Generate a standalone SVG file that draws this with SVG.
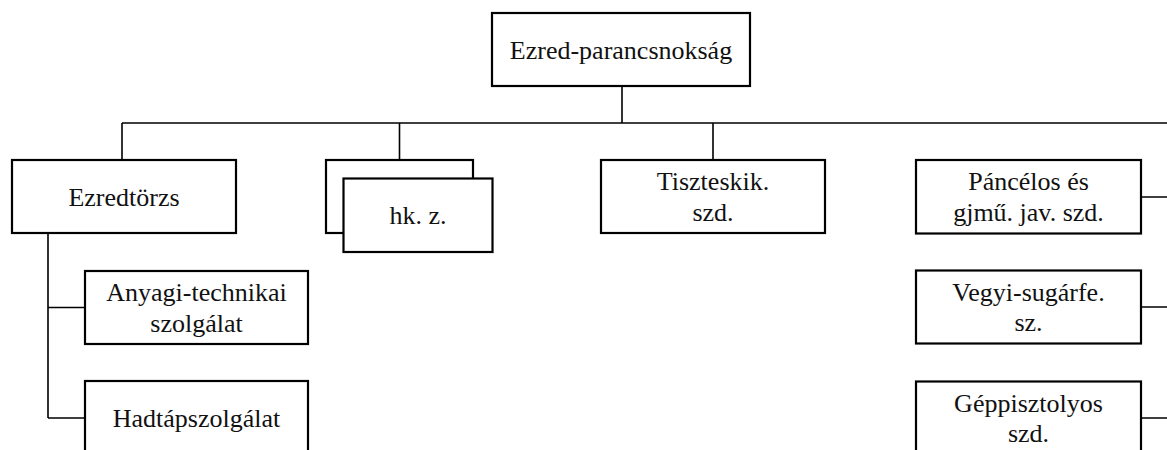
<svg xmlns="http://www.w3.org/2000/svg" width="1167" height="450" viewBox="0 0 1167 450">
<style>
.box{fill:#fff;stroke:#000;stroke-width:2.2}
.conn{fill:none;stroke:#000;stroke-width:1.6}
text{font-family:"Liberation Serif","Times New Roman",serif;font-size:26px;fill:#111;text-anchor:middle}
</style>
<rect width="1167" height="450" fill="#fff"/>
<g id="connectors">
<path class="conn" d="M622 86V123M122 123H1167M122 123V160M399.5 123V160M713 123V160"/>
<path class="conn" d="M48 234V418M48 307.5H85M48 418H85"/>
<path class="conn" d="M1141 197H1167M1141 307H1167M1141 418H1167"/>
</g>
<g id="node-parancsnoksag">
<rect class="box" x="492" y="13" width="258" height="73"/>
<text x="621" y="59">Ezred-parancsnokság</text>
</g>
<g id="node-ezredtorzs">
<rect class="box" x="12" y="160" width="224" height="73"/>
<text x="124" y="206">Ezredtörzs</text>
</g>
<g id="node-hkz">
<rect class="box" x="326" y="160" width="147" height="73"/>
<rect class="box" x="343.5" y="178.5" width="149" height="73.5"/>
<text x="418" y="224">hk. z.</text>
</g>
<g id="node-tiszteskik">
<rect class="box" x="601" y="160" width="224" height="73"/>
<text x="713" y="190">Tiszteskik.</text>
<text x="713" y="220.5">szd.</text>
</g>
<g id="node-pancelos">
<rect class="box" x="916" y="160" width="225" height="73.5"/>
<text x="1028.5" y="190">Páncélos és</text>
<text x="1028.5" y="220.5">gjmű. jav. szd.</text>
</g>
<g id="node-anyagi">
<rect class="box" x="85" y="271" width="223" height="73"/>
<text x="196.5" y="301">Anyagi-technikai</text>
<text x="196.5" y="331.5">szolgálat</text>
</g>
<g id="node-hadtap">
<rect class="box" x="85" y="381" width="223" height="73"/>
<text x="196.5" y="427">Hadtápszolgálat</text>
</g>
<g id="node-vegyi">
<rect class="box" x="916" y="270.5" width="225" height="73"/>
<text x="1028.5" y="300.5">Vegyi-sugárfe.</text>
<text x="1028.5" y="331">sz.</text>
</g>
<g id="node-geppisztolyos">
<rect class="box" x="916" y="381.5" width="225" height="73"/>
<text x="1028.5" y="411.5">Géppisztolyos</text>
<text x="1028.5" y="442">szd.</text>
</g>
</svg>
